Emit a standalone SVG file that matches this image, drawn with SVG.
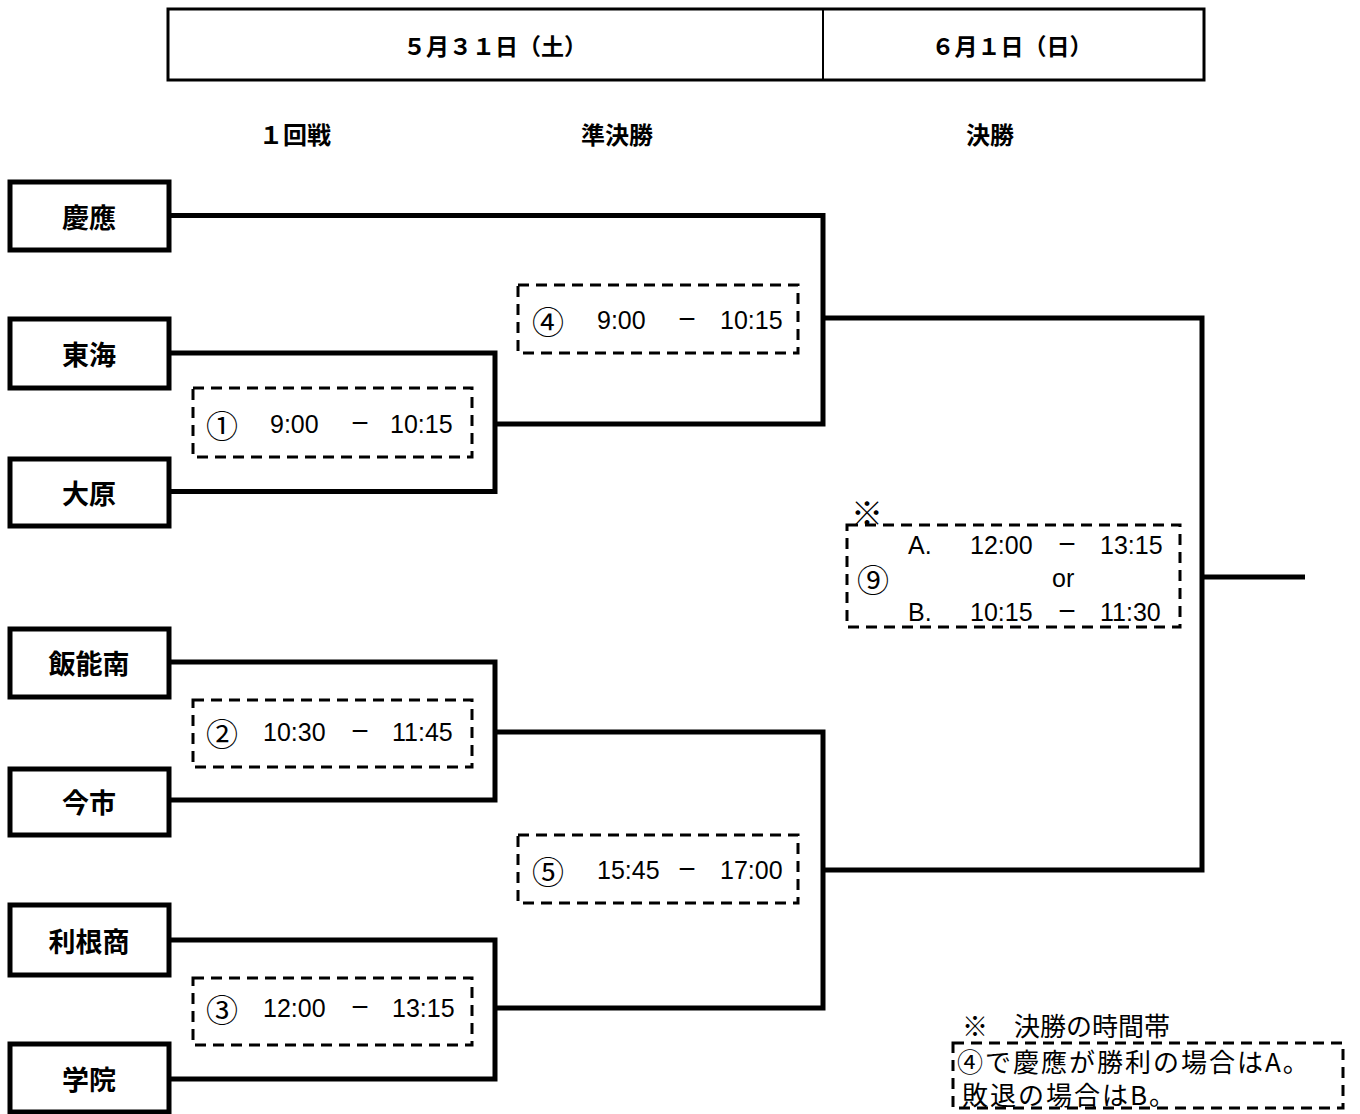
<svg xmlns="http://www.w3.org/2000/svg" width="1360" height="1114" viewBox="0 0 1360 1114">
<style>
.hdr{fill:none;stroke:#000;stroke-width:3}
.team rect{fill:#fff;stroke:#000;stroke-width:5}
.team text{font-family:"Noto Sans CJK JP","Noto Sans",sans-serif;font-weight:700;font-size:27px;text-anchor:middle;dominant-baseline:central}
.bold{font-family:"Noto Sans CJK JP","Noto Sans",sans-serif;font-weight:700;text-anchor:middle;dominant-baseline:central}
.dash{fill:none;stroke:#000;stroke-width:3;stroke-dasharray:11 7}
.num{font-family:"Liberation Sans",Arial,sans-serif;font-size:25px;dominant-baseline:central}
.mid{text-anchor:middle;font-size:30px}
.cir{font-family:"Noto Sans CJK JP","Noto Sans",sans-serif;font-size:32px;dominant-baseline:central;text-anchor:middle}
.note{font-family:"Noto Sans CJK JP","Noto Sans",sans-serif;font-size:26px;dominant-baseline:central}
.ln{fill:none;stroke:#000;stroke-width:5}
</style>
<rect width="1360" height="1114" fill="#fff"/>
<g id="header">
<rect class="hdr" x="168" y="9" width="1036" height="71"/>
<line x1="823" y1="9" x2="823" y2="80" stroke="#000" stroke-width="2"/>
<text class="bold" x="495" y="45" font-size="23">５月３１日（土）</text>
<text class="bold" x="1012" y="45" font-size="23">６月１日（日）</text>
</g>
<g id="rounds">
<text class="bold" x="295" y="133" font-size="24">１回戦</text>
<text class="bold" x="617" y="133" font-size="24">準決勝</text>
<text class="bold" x="990" y="133" font-size="24">決勝</text>
</g>
<g id="connectors">
<path class="ln" d="M169,215.5 H823 V424 H495"/>
<path class="ln" d="M169,353 H495 V491.5 H169"/>
<path class="ln" d="M823,318 H1202 V870 H823"/>
<path class="ln" d="M1202,577 H1305"/>
<path class="ln" d="M169,662 H495 V800 H169"/>
<path class="ln" d="M495,732 H823 V1008 H495"/>
<path class="ln" d="M169,940 H495 V1079 H169"/>
</g>
<g id="team-keio" class="team"><rect x="10" y="182" width="159" height="68"/><text x="89" y="216">慶應</text></g>
<g id="team-tokai" class="team"><rect x="10" y="319" width="159" height="69"/><text x="89" y="353">東海</text></g>
<g id="team-ohara" class="team"><rect x="10" y="459" width="159" height="67"/><text x="89" y="492">大原</text></g>
<g id="team-hanno" class="team"><rect x="10" y="629" width="159" height="68"/><text x="89" y="662">飯能南</text></g>
<g id="team-imaichi" class="team"><rect x="10" y="769" width="159" height="66"/><text x="89" y="801">今市</text></g>
<g id="team-tone" class="team"><rect x="10" y="905" width="159" height="70"/><text x="89" y="940">利根商</text></g>
<g id="team-gakuin" class="team"><rect x="10" y="1044" width="159" height="68"/><text x="89" y="1078">学院</text></g>
<g id="match1">
<rect class="dash" x="193" y="388" width="279" height="69"/>
<text class="cir" x="222" y="424">①</text>
<text class="num" x="270" y="424">9:00</text>
<text class="num mid" x="360" y="422">−</text>
<text class="num" x="390" y="424">10:15</text>
</g>
<g id="match2">
<rect class="dash" x="193" y="700" width="279" height="67"/>
<text class="cir" x="222" y="732">②</text>
<text class="num" x="263" y="732">10:30</text>
<text class="num mid" x="360" y="730">−</text>
<text class="num" x="392" y="732">11:45</text>
</g>
<g id="match3">
<rect class="dash" x="193" y="978" width="279" height="67"/>
<text class="cir" x="222" y="1008">③</text>
<text class="num" x="263" y="1008">12:00</text>
<text class="num mid" x="360" y="1006">−</text>
<text class="num" x="392" y="1008">13:15</text>
</g>
<g id="match4">
<rect class="dash" x="518" y="285" width="280" height="68"/>
<text class="cir" x="548" y="320">④</text>
<text class="num" x="597" y="320">9:00</text>
<text class="num mid" x="687" y="318">−</text>
<text class="num" x="720" y="320">10:15</text>
</g>
<g id="match5">
<rect class="dash" x="518" y="835" width="280" height="68"/>
<text class="cir" x="548" y="870">⑤</text>
<text class="num" x="597" y="870">15:45</text>
<text class="num mid" x="687" y="868">−</text>
<text class="num" x="720" y="870">17:00</text>
</g>
<g id="match9">
<text class="cir" x="867" y="511" font-size="28">※</text>
<rect class="dash" x="847" y="525" width="333" height="102"/>
<text class="num" x="908" y="545">A.</text>
<text class="num" x="970" y="545">12:00</text>
<text class="num mid" x="1067" y="543">−</text>
<text class="num" x="1100" y="545">13:15</text>
<text class="cir" x="873" y="578">⑨</text>
<text class="num" x="1052" y="578">or</text>
<text class="num" x="908" y="612">B.</text>
<text class="num" x="970" y="612">10:15</text>
<text class="num mid" x="1067" y="610">−</text>
<text class="num" x="1100" y="612">11:30</text>
</g>
<g id="note">
<text class="note" x="962" y="1024" font-size="28">※　決勝の時間帯</text>
<rect class="dash" x="953" y="1043" width="390" height="65"/>
<text class="note" x="957" y="1060" letter-spacing="2">④で慶應が勝利の場合はA。</text>
<text class="note" x="962" y="1093" letter-spacing="2">敗退の場合はB。</text>
</g>
</svg>
